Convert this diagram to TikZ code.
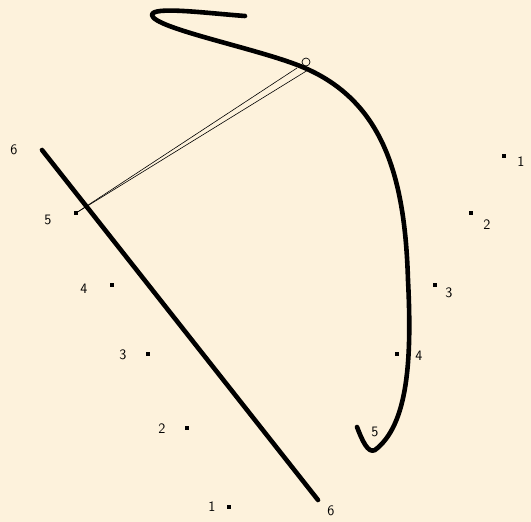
\documentclass[tikz,border=0pt]{standalone}
\usepackage{tikz}
\usepackage{xcolor}
\usetikzlibrary{positioning,calc}
\definecolor{paper}{HTML}{FDF2DC}
\tikzset{
  dotmark/.style={fill=black,inner sep=0pt,minimum size=3.8pt},
  numlabel/.style={font=\sffamily\Large,inner sep=0pt},
  stroke/.style={line width=4.6pt,line cap=round,line join=round}
}

\begin{document}
\begin{tikzpicture}[x=1pt,y=-1pt]
  % paper
  \fill[paper] (0,0) rectangle (531,522);
  \useasboundingbox (0,0) rectangle (531,522);
  % left column of dots
  \foreach \n/\x/\y/\lx/\ly in {
     1/229/507/212/507,
     2/187/428/162/429,
     3/148/354/123/355,
     4/112/285/84/289,
     5/76/213/48/220}{
    \node[dotmark] (l\n) at (\x,\y) {};
    \node[numlabel] (ln\n) at (\lx,\ly) {\n};
  }
  % right column of dots
  \foreach \n/\x/\y/\lx/\ly in {
     1/504/156/521/162,
     2/471/213/487/225,
     3/435/285/449/293,
     4/397/354/419/356}{
    \node[dotmark] (r\n) at (\x,\y) {};
    \node[numlabel] (rn\n) at (\lx,\ly) {\n};
  }
  \node[numlabel] (rn5) at (375,432) {5};
  % straight stroke
  \coordinate (top6) at (42,150);
  \coordinate (bot6) at (318,500);
  \node[numlabel] (lab6a) at (14,150) {6};
  \node[numlabel] (lab6b) at (331,511) {6};
  \draw[stroke] (top6) -- (bot6);
  % ring and guide lines
  \node[draw,circle,line width=0.7pt,inner sep=0pt,minimum size=8pt] (ring) at (306,62) {};
  \coordinate (ga) at ($(ring)+(-9,6)$);
  \coordinate (gb) at ($(ring)+(2,8)$);
  \draw[line width=0.6pt] (ga) -- (l5);
  \draw[line width=0.6pt] (gb) -- (l5);
  % curved stroke
  \draw[stroke] (245,16) .. controls (205,13) and (152,6) .. (152,15)
    .. controls (153,28) and (255,48) .. (300,66)
    .. controls (385,100) and (405,180) .. (408,280)
    .. controls (412,360) and (408,425) .. (375,450)
    .. controls (368,454) and (362,440) .. (357,427);
\end{tikzpicture}
\end{document}
